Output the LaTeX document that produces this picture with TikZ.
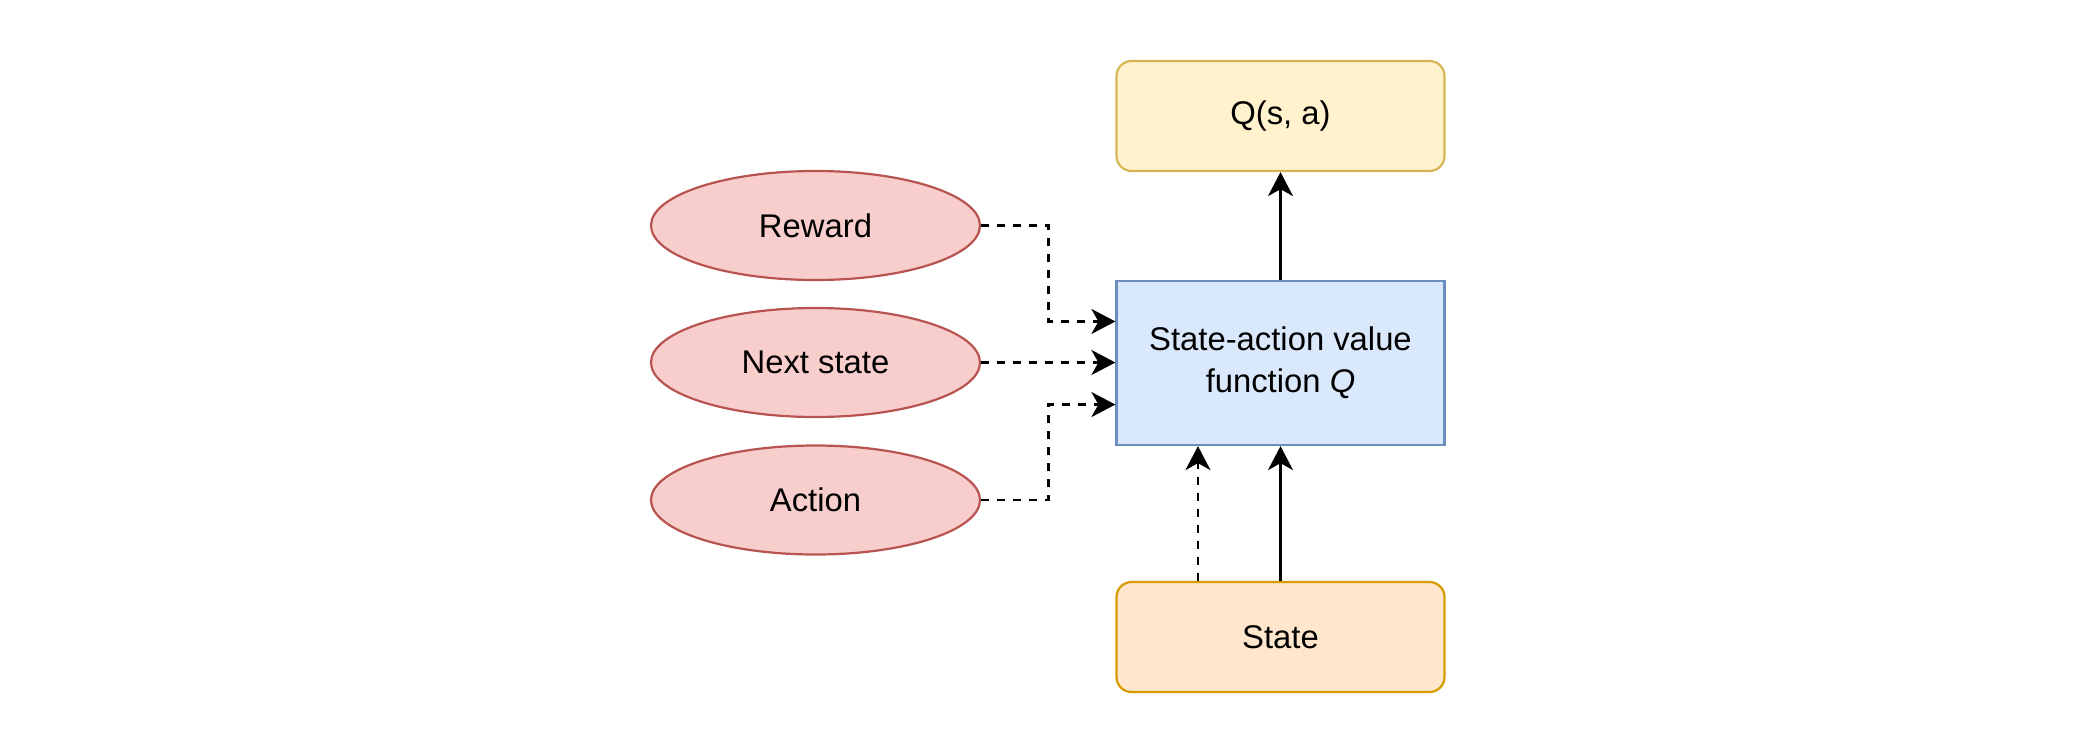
\documentclass[tikz,border=0pt]{standalone}
\usepackage{fontspec}
\setmainfont{Liberation Sans}
\usetikzlibrary{arrows.meta,calc,shapes.geometric}
\definecolor{qfill}{HTML}{FFF2CC}\definecolor{qdraw}{HTML}{D6B656}
\definecolor{bfill}{HTML}{DAE8FC}\definecolor{bdraw}{HTML}{6C8EBF}
\definecolor{sfill}{HTML}{FFE6CC}\definecolor{sdraw}{HTML}{D79B00}
\definecolor{efill}{HTML}{F8CECC}\definecolor{edraw}{HTML}{B85450}
\begin{document}
\begin{tikzpicture}[x=0.5pt,y=-0.5pt,
  every node/.style={font=\fontsize{16.4pt}{21pt}\selectfont, align=center, inner sep=0pt, line width=1.1pt},
  roundbox/.style={rectangle, rounded corners=7.5pt, minimum width=164pt, minimum height=55pt},
  qbox/.style={roundbox, fill=qfill, draw=qdraw},
  statebox/.style={roundbox, fill=sfill, draw=sdraw},
  fnbox/.style={rectangle, fill=bfill, draw=bdraw, minimum width=164pt, minimum height=82pt},
  oval/.style={ellipse, fill=efill, draw=edraw, minimum width=164.5pt, minimum height=54.5pt},
  conn/.style={line width=1.3pt, -{Stealth[length=12pt,width=12.5pt,inset=3.5pt]}},
  dconn/.style={conn, dash pattern=on 4pt off 4pt}]
\useasboundingbox (0,0) rectangle (2090,746);
\node[qbox] (q) at (1280.5,116) {Q(s, a)};
\node[fnbox] (f) at (1280.5,363) {State-action value\\function \textit{Q}};
\node[statebox] (s) at (1280.5,637) {State};
\node[oval] (r) at (815.5,225.5) {Reward};
\node[oval] (n) at (815.5,362.5) {Next state};
\node[oval] (a) at (815.5,500) {Action};
\coordinate (in1) at ($(f.north west)!0.25!(f.south west)$);
\coordinate (in3) at ($(f.north west)!0.75!(f.south west)$);
\coordinate (out1) at ($(s.north west)!0.25!(s.north east)$);
\draw[conn] (f.north) -- (q.south);
\draw[conn] (s.north) -- (f.south);
\draw[dconn] (out1) -- (out1 |- f.south);
\draw[dconn] (n.east) -- (n.east -| f.west);
\draw[dconn] (r.east) -- ($(r.east)!0.5!(r.east -| in1)$) |- (in1);
\draw[dconn] (a.east) -- ($(a.east)!0.5!(a.east -| in3)$) |- (in3);
\end{tikzpicture}
\end{document}
